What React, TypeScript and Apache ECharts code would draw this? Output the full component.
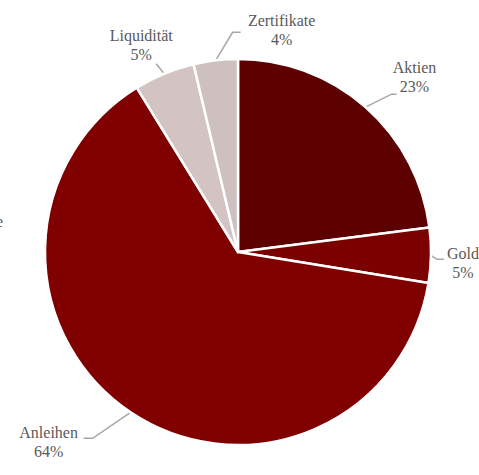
import React, { useEffect, useRef } from "react";
import * as echarts from "echarts";

const categories = ["Aktien", "Gold", "Anleihen", "Liquidität", "Zertifikate"];
const values = [23.0, 4.6, 63.7, 5.1, 3.7];
const colors = ["#5c0000", "#7b0000", "#800000", "#d3c3c3", "#cfc0c0"];

// label line offsets (relative to edge point) and label centre offsets (relative to line end)
const lineBend: [number, number][] = [[26, -13], [6, 4], [-38, 26], [-8, -10], [17, -28]];
const lineTail = [5, 7, -9, 0, 8];
const labelShift: [number, number][] = [[18, -17], [19, 4], [-35, 4], [-15, -19], [41, -2]];

const CX = 238;
const CY = 252;
const R = 193;
const FONT = "Liberation Serif, Times New Roman, serif";

export default function App() {
  const ref = useRef<HTMLDivElement>(null);
  useEffect(() => {
    if (!ref.current) return;
    const chart = echarts.init(ref.current, null, { renderer: "svg" });
    const total = values.reduce((a, b) => a + b, 0);
    const edgePoint = (i: number): [number, number] => {
      let before = 0;
      for (let k = 0; k < i; k++) before += values[k];
      const mid = ((before + values[i] / 2) / total) * Math.PI * 2;
      return [CX + R * Math.sin(mid), CY - R * Math.cos(mid)];
    };
    chart.setOption({
      animation: false,
      backgroundColor: "#ffffff",
      textStyle: { fontFamily: FONT },
      graphic: [
        {
          type: "text",
          x: -4,
          y: 213,
          style: { text: "e", fontFamily: FONT, fontSize: 16, fill: "#595959" },
        },
      ],
      series: [
        {
          type: "pie",
          center: [CX, CY],
          radius: [0, R],
          startAngle: 90,
          clockwise: true,
          avoidLabelOverlap: false,
          itemStyle: { borderColor: "#ffffff", borderWidth: 2.5 },
          label: {
            show: true,
            position: "outside",
            fontFamily: FONT,
            fontSize: 16,
            lineHeight: 19,
            color: "#595959",
            formatter: (p: any) => `${p.name}\n${Math.round(p.percent)}%`,
          },
          labelLine: {
            show: true,
            length: 10,
            length2: 8,
            lineStyle: { color: "#a6a6a6", width: 1.5 },
          },
          labelLayout: (params: any) => {
            const i = params.dataIndex;
            const p0: [number, number] =
              params.labelLinePoints && params.labelLinePoints[0]
                ? [params.labelLinePoints[0][0], params.labelLinePoints[0][1]]
                : edgePoint(i);
            const p1: [number, number] = [p0[0] + lineBend[i][0], p0[1] + lineBend[i][1]];
            const p2: [number, number] = [p1[0] + lineTail[i], p1[1]];
            return {
              x: p2[0] + labelShift[i][0],
              y: p2[1] + labelShift[i][1],
              align: "center",
              verticalAlign: "middle",
              labelLinePoints: [p0, p1, p2],
            };
          },
          data: categories.map((name, i) => ({
            name,
            value: values[i],
            itemStyle: { color: colors[i] },
          })),
        },
      ],
    });
    return () => chart.dispose();
  }, []);
  return (
    <div
      ref={ref}
      style={{ position: "absolute", left: 0, top: 0, width: 479, height: 475 }}
    />
  );
}
